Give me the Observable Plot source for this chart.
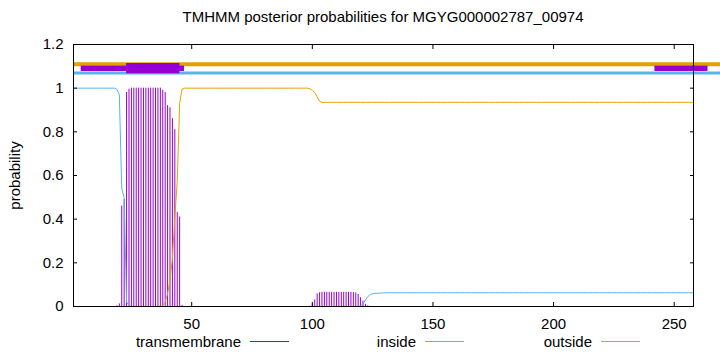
<!DOCTYPE html>
<html>
<head>
<meta charset="utf-8">
<script src="https://cdn.jsdelivr.net/npm/d3@7"></script>
<script src="https://cdn.jsdelivr.net/npm/@observablehq/plot@0.6"></script>
<style>
  html, body { margin: 0; padding: 0; background: #fff; }
  #wrap { width: 720px; height: 352px; position: relative; overflow: hidden;
          font-family: "Liberation Sans", Arial, Helvetica, sans-serif; color: #000; }
  #title { height: 34px; line-height: 34px; font-size: 15px; text-align: center; padding-left: 46px; white-space: nowrap; }
  #legend { position: relative; height: 22px; font-size: 15px; }
  .key { position: absolute; top: 0; height: 22px; display: flex; align-items: center; }
  .key span.t { display: inline-block; width: 150px; text-align: right; }
  .key span.l { display: inline-block; width: 39px; height: 1px; margin-left: 9px; }
</style>
</head>
<body>
<div id="wrap">
  <div id="title"></div>
  <div id="chart"></div>
  <div id="legend"></div>
</div>
<script>
// ---- data ----
const titleText = "TMHMM posterior probabilities for MGYG000002787_00974";
const seqLength = 258;
const seriesNames = ["transmembrane", "inside", "outside"];
const seriesColors = ["#9400d3", "#56b4e9", "#e69f00"];
const xTicks = [50, 100, 150, 200, 250];
const yTicks = [0, 0.2, 0.4, 0.6, 0.8, 1, 1.2];

// posterior probability per residue (1..258)
const transmembrane = [
  0,0,0,0,0,0,0,0,0,0,
  0,0,0,0,0,0,0,0,0.003,0.012,
  0.46,0.49,0.98,0.995,1,1,1,1,1,1,
  1,1,1,1,1,1,1,0.99,0.98,0.92,
  0.91,0.86,0.81,0.43,0.41,0.005,0,0,0,0,
  0,0,0,0,0,0,0,0,0,0,
  0,0,0,0,0,0,0,0,0,0,
  0,0,0,0,0,0,0,0,0,0,
  0,0,0,0,0,0,0,0,0,0,
  0,0,0,0,0,0,0,0,0.002,0.012,
  0.03,0.058,0.063,0.065,0.065,0.065,0.065,0.065,0.065,0.065,
  0.065,0.065,0.065,0.065,0.065,0.065,0.064,0.062,0.055,0.04,
  0.025,0.01,0.003,0,0,0,0,0,0,0,
  0,0,0,0,0,0,0,0,0,0,
  0,0,0,0,0,0,0,0,0,0,
  0,0,0,0,0,0,0,0,0,0,
  0,0,0,0,0,0,0,0,0,0,
  0,0,0,0,0,0,0,0,0,0,
  0,0,0,0,0,0,0,0,0,0,
  0,0,0,0,0,0,0,0,0,0,
  0,0,0,0,0,0,0,0,0,0,
  0,0,0,0,0,0,0,0,0,0,
  0,0,0,0,0,0,0,0,0,0,
  0,0,0,0,0,0,0,0,0,0,
  0,0,0,0,0,0,0,0,0,0,
  0,0,0,0,0,0,0,0
];
const inside = [
  1,1,1,1,1,1,1,1,1,1,
  1,1,1,1,1,1,1,1,0.995,0.97,
  0.54,0.5,0.02,0.005,0,0,0,0,0,0,
  0,0,0,0,0,0,0,0,0,0,
  0,0,0,0,0,0,0,0,0,0,
  0,0,0,0,0,0,0,0,0,0,
  0,0,0,0,0,0,0,0,0,0,
  0,0,0,0,0,0,0,0,0,0,
  0,0,0,0,0,0,0,0,0,0,
  0,0,0,0,0,0,0,0,0,0,
  0,0,0,0,0,0,0,0,0,0,
  0,0,0,0,0,0,0,0,0.001,0.003,
  0.012,0.03,0.045,0.055,0.058,0.06,0.061,0.061,0.062,0.062,
  0.063,0.063,0.063,0.063,0.063,0.063,0.063,0.063,0.063,0.063,
  0.063,0.063,0.063,0.063,0.063,0.063,0.063,0.063,0.063,0.063,
  0.063,0.063,0.063,0.063,0.063,0.063,0.063,0.063,0.063,0.063,
  0.063,0.063,0.063,0.063,0.063,0.063,0.063,0.063,0.063,0.063,
  0.063,0.063,0.063,0.063,0.063,0.063,0.063,0.063,0.063,0.063,
  0.063,0.063,0.063,0.063,0.063,0.063,0.063,0.063,0.063,0.063,
  0.063,0.063,0.063,0.063,0.063,0.063,0.063,0.063,0.063,0.063,
  0.063,0.063,0.063,0.063,0.063,0.063,0.063,0.063,0.063,0.063,
  0.063,0.063,0.063,0.063,0.063,0.063,0.063,0.063,0.063,0.063,
  0.063,0.063,0.063,0.063,0.063,0.063,0.063,0.063,0.063,0.063,
  0.063,0.063,0.063,0.063,0.063,0.063,0.063,0.063,0.063,0.063,
  0.063,0.063,0.063,0.063,0.063,0.063,0.063,0.063,0.063,0.063,
  0.063,0.063,0.063,0.063,0.063,0.063,0.063,0.063
];
const outside = [
  0,0,0,0,0,0,0,0,0,0,
  0,0,0,0,0,0,0,0,0,0,
  0,0,0,0,0,0,0,0,0,0,
  0,0,0,0,0,0,0,0.005,0.02,0.06,
  0.12,0.22,0.41,0.57,0.93,0.995,1,1,1,1,
  1,1,1,1,1,1,1,1,1,1,
  1,1,1,1,1,1,1,1,1,1,
  1,1,1,1,1,1,1,1,1,1,
  1,1,1,1,1,1,1,1,1,1,
  1,1,1,1,1,1,1,1,0.997,0.99,
  0.98,0.96,0.94,0.935,0.935,0.935,0.935,0.935,0.935,0.935,
  0.935,0.935,0.935,0.935,0.935,0.935,0.935,0.935,0.935,0.935,
  0.935,0.935,0.935,0.935,0.935,0.935,0.935,0.935,0.935,0.935,
  0.935,0.935,0.935,0.935,0.935,0.935,0.935,0.935,0.935,0.935,
  0.935,0.935,0.935,0.935,0.935,0.935,0.935,0.935,0.935,0.935,
  0.935,0.935,0.935,0.935,0.935,0.935,0.935,0.935,0.935,0.935,
  0.935,0.935,0.935,0.935,0.935,0.935,0.935,0.935,0.935,0.935,
  0.935,0.935,0.935,0.935,0.935,0.935,0.935,0.935,0.935,0.935,
  0.935,0.935,0.935,0.935,0.935,0.935,0.935,0.935,0.935,0.935,
  0.935,0.935,0.935,0.935,0.935,0.935,0.935,0.935,0.935,0.935,
  0.935,0.935,0.935,0.935,0.935,0.935,0.935,0.935,0.935,0.935,
  0.935,0.935,0.935,0.935,0.935,0.935,0.935,0.935,0.935,0.935,
  0.935,0.935,0.935,0.935,0.935,0.935,0.935,0.935,0.935,0.935,
  0.935,0.935,0.935,0.935,0.935,0.935,0.935,0.935,0.935,0.935,
  0.935,0.935,0.935,0.935,0.935,0.935,0.935,0.935,0.935,0.935,
  0.935,0.935,0.935,0.935,0.935,0.935,0.935,0.935
];

// topology annotation bars above the curves
const outsideBar = { y: 1.109, from: 1, to: 275 };
const insideBar  = { y: 1.070, from: 1, to: 275 };
const tmThinStart = [4.2, 242];
const tmThinEnd   = [47, 264];
const tmThinLow = 1.0764, tmThinHigh = 1.1008;
const tmThickStart = [23];
const tmThickEnd   = [45.1];
const tmThickLow = 1.066, tmThickHigh = 1.113;

// ---- build tables ----
const toRows = arr => arr.map((v, i) => ({ r: i + 1, v }));
const tmRows = toRows(transmembrane);
const inRows = toRows(inside);
const outRows = toRows(outside);
const thinBoxes = tmThinStart.map((s, i) => ({ x1: s, x2: tmThinEnd[i], y1: tmThinLow, y2: tmThinHigh }));
const thickBoxes = tmThickStart.map((s, i) => ({ x1: s, x2: tmThickEnd[i], y1: tmThickLow, y2: tmThickHigh }));

document.getElementById("title").textContent = titleText;

const chart = Plot.plot({
  width: 720,
  height: 296,
  marginLeft: 73,
  marginRight: 27,
  marginTop: 10,
  marginBottom: 24,
  style: { fontFamily: '"Liberation Sans", Arial, Helvetica, sans-serif', fontSize: "15px", color: "#000", background: "#fff", overflow: "visible" },
  x: { domain: [1, seqLength], label: null },
  y: { domain: [0, 1.2], label: null },
  marks: [
    Plot.ruleX(tmRows, { x: "r", y1: 0, y2: "v", stroke: seriesColors[0], strokeWidth: 1 }),
    Plot.line(inRows, { x: "r", y: "v", stroke: seriesColors[1], strokeWidth: 1 }),
    Plot.line(outRows, { x: "r", y: "v", stroke: seriesColors[2], strokeWidth: 1 }),
    Plot.ruleY([outsideBar], { y: "y", x1: "from", x2: "to", stroke: seriesColors[2], strokeWidth: 4 }),
    Plot.ruleY([insideBar], { y: "y", x1: "from", x2: "to", stroke: seriesColors[1], strokeWidth: 3 }),
    Plot.rect(thinBoxes, { x1: "x1", x2: "x2", y1: "y1", y2: "y2", fill: seriesColors[0] }),
    Plot.rect(thickBoxes, { x1: "x1", x2: "x2", y1: "y1", y2: "y2", fill: seriesColors[0] }),
    Plot.axisX(xTicks, { anchor: "bottom", tickSize: 0, tickPadding: 12 }),
    Plot.axisX(xTicks, { anchor: "bottom", tickSize: -4, tickFormat: () => "" }),
    Plot.axisX(xTicks, { anchor: "top", tickSize: -4, tickFormat: () => "" }),
    Plot.axisY(yTicks, { anchor: "left", tickSize: 0, tickPadding: 10, tickFormat: d => String(d),
      label: "probability", labelAnchor: "center", labelOffset: 64, labelArrow: false }),
    Plot.axisY(yTicks, { anchor: "left", tickSize: -4, tickFormat: () => "", label: null }),
    Plot.axisY(yTicks, { anchor: "right", tickSize: -4, tickFormat: () => "", label: null }),
    Plot.frame({ stroke: "#000" })
  ]
});
document.getElementById("chart").appendChild(chart);

// legend (gnuplot-style key under the plot)
const legendLeft = [91, 266, 442];
const legend = document.getElementById("legend");
seriesNames.forEach((name, i) => {
  const k = document.createElement("div");
  k.className = "key";
  k.style.left = legendLeft[i] + "px";
  const t = document.createElement("span"); t.className = "t"; t.textContent = name;
  const l = document.createElement("span"); l.className = "l"; l.style.background = seriesColors[i];
  k.appendChild(t); k.appendChild(l);
  legend.appendChild(k);
});
</script>
</body>
</html>
